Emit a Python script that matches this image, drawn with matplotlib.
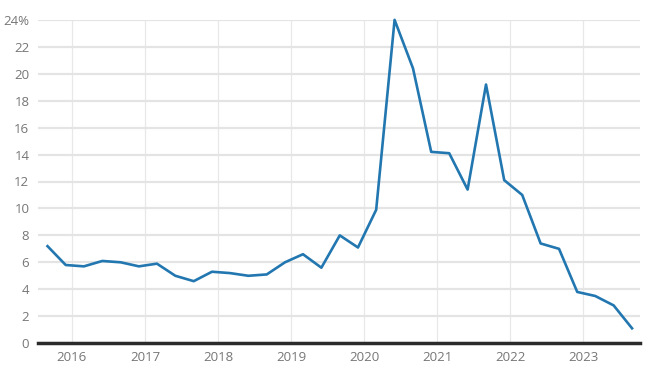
import matplotlib.pyplot as plt
import pandas as pd

# quarterly values
dates = pd.date_range("2015-09-01", "2023-09-01", freq="3MS")
values = [7.2, 5.8, 5.7, 6.1, 6.0, 5.7, 5.9, 5.0, 4.6, 5.3, 5.2, 5.0, 5.1,
          6.0, 6.6, 5.6, 8.0, 7.1, 9.9, 24.0, 20.4, 14.2, 14.1, 11.4, 19.2,
          12.1, 11.0, 7.4, 7.0, 3.8, 3.5, 2.8, 1.1]
yticks = list(range(0, 25, 2))
ytick_labels = [str(v) for v in yticks[:-1]] + ["24%"]
years = list(range(2016, 2024))

plt.rcParams['font.family'] = ['Open Sans', 'DejaVu Sans']

fig = plt.figure(figsize=(6.5, 3.75), dpi=100)
ax = fig.add_axes([0.058, 0.085, 0.927, 0.862])

ax.plot(dates, values, color='#2277b0', lw=1.9, solid_joinstyle='round', zorder=3, clip_on=False)

ax.set_ylim(0, 24)
ax.set_xlim(pd.Timestamp("2015-07-14"), pd.Timestamp("2023-10-12"))
ax.set_yticks(yticks)
ax.set_yticklabels(ytick_labels)
year_ticks = [pd.Timestamp(f"{y}-01-01") for y in years]
ax.set_xticks(year_ticks)
ax.set_xticklabels([str(y) for y in years])

ax.grid(axis='y', color='#e4e4e4', lw=1.6)
ax.grid(axis='x', color='#e8e8e8', lw=0.9)
ax.set_axisbelow(True)
for s in ['top', 'right', 'left']:
    ax.spines[s].set_visible(False)
ax.spines['bottom'].set_color('#2b2b2b')
ax.spines['bottom'].set_linewidth(2.5)
ax.spines['bottom'].set_zorder(4)

ax.tick_params(length=0, colors='#767676', labelsize=9.5)
ax.tick_params(axis='y', pad=6)
ax.tick_params(axis='x', pad=6)

fig.savefig("out.png", dpi=100)
